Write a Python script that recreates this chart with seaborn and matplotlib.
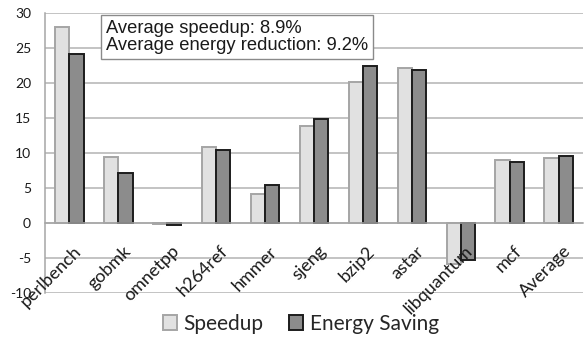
import matplotlib
matplotlib.use("Agg")
import matplotlib.pyplot as plt
from matplotlib.patches import Patch
from matplotlib.transforms import ScaledTranslation
import numpy as np
import pandas as pd
import seaborn as sns

benchmarks = ["perlbench", "gobmk", "omnetpp", "h264ref", "hmmer", "sjeng",
              "bzip2", "astar", "libquantum", "mcf", "Average"]
speedup = [28.0, 9.5, -0.2, 10.9, 4.1, 13.9, 20.2, 22.2, -5.9, 9.0, 9.3]
energy_saving = [24.2, 7.2, -0.3, 10.5, 5.5, 14.9, 22.5, 21.9, -5.3, 8.7, 9.6]
series = ["Speedup", "Energy Saving"]
y_ticks = [-10, -5, 0, 5, 10, 15, 20, 25, 30]
note_lines = ["Average speedup: 8.9%", "Average energy reduction: 9.2%"]

face_colors = {"Speedup": "#e1e1e1", "Energy Saving": "#8c8c8c"}
edge_colors = {"Speedup": "#a5a5a5", "Energy Saving": "#1c1c1c"}

df = pd.DataFrame({
    "benchmark": benchmarks * 2,
    "value": speedup + energy_saving,
    "series": [series[0]] * len(benchmarks) + [series[1]] * len(benchmarks),
})

sns.set_style("white")
plt.rcParams["font.family"] = ["Lato", "DejaVu Sans"]

fig = plt.figure(figsize=(5.84, 3.41), dpi=100)
ax = fig.add_axes([45 / 584, 1 - 293 / 341, (583 - 45) / 584, (293 - 13) / 341])

sns.barplot(data=df, x="benchmark", y="value", hue="series", order=benchmarks,
            hue_order=series, palette=face_colors, saturation=1, width=0.58,
            ax=ax, legend=False)

for container, name in zip(ax.containers, series):
    for bar in container:
        bar.set_edgecolor(edge_colors[name])
        bar.set_linewidth(1.4)
        bar.set_zorder(3)

ax.set_xlim(-0.5, len(benchmarks) - 0.5)
ax.set_ylim(-10, 30)
ax.set_yticks(y_ticks)
ax.set_yticklabels([str(t) for t in y_ticks], fontsize=10, color="#1a1a1a")
ax.yaxis.grid(True, color="#b3b3b3", linewidth=1.1, zorder=0)
ax.set_axisbelow(True)

ax.spines["top"].set_visible(False)
ax.spines["right"].set_visible(False)
ax.spines["left"].set_color("#a6a6a6")
ax.spines["left"].set_linewidth(1.1)
ax.spines["bottom"].set_position(("data", 0))
ax.spines["bottom"].set_color("#a6a6a6")
ax.spines["bottom"].set_linewidth(1.1)
ax.spines["bottom"].set_zorder(4)

ax.tick_params(axis="y", which="major", length=4, width=1.1, color="#a6a6a6",
               direction="out", pad=6)
# category boundaries carry the tick marks, labels are placed separately
ax.set_xticks(np.arange(len(benchmarks) + 1) - 0.5, minor=True)
ax.set_xticks([])
ax.tick_params(axis="x", which="minor", length=5, width=1.1, color="#a6a6a6",
               direction="out")
ax.set_xlabel("")
ax.set_ylabel("")

shift = ScaledTranslation(4 / 100, -20 / 100, fig.dpi_scale_trans)
for i, name in enumerate(benchmarks):
    ax.text(i, 0, name, rotation=45, rotation_mode="anchor", ha="right",
            va="top", fontsize=13, color="#1a1a1a",
            transform=ax.transData + shift, zorder=5)

fig.text(106 / 584, 1 - 37 / 341, "\n".join(note_lines),
         family=["Liberation Sans", "DejaVu Sans"], fontsize=13.2,
         va="center", ha="left", color="#1a1a1a", linespacing=1.0,
         bbox=dict(boxstyle="square,pad=0.25", facecolor="white",
                   edgecolor="#8a8a8a", linewidth=1.0))

handles = [Patch(facecolor=face_colors[s], edgecolor=edge_colors[s],
                 linewidth=1.4, label=s) for s in series]
fig.legend(handles=handles, loc="center", bbox_to_anchor=(0.515, 0.05),
           ncol=2, frameon=False, fontsize=15, handlelength=0.7,
           handleheight=0.7, handletextpad=0.3, columnspacing=1.2)

fig.savefig("out.png", dpi=100)
